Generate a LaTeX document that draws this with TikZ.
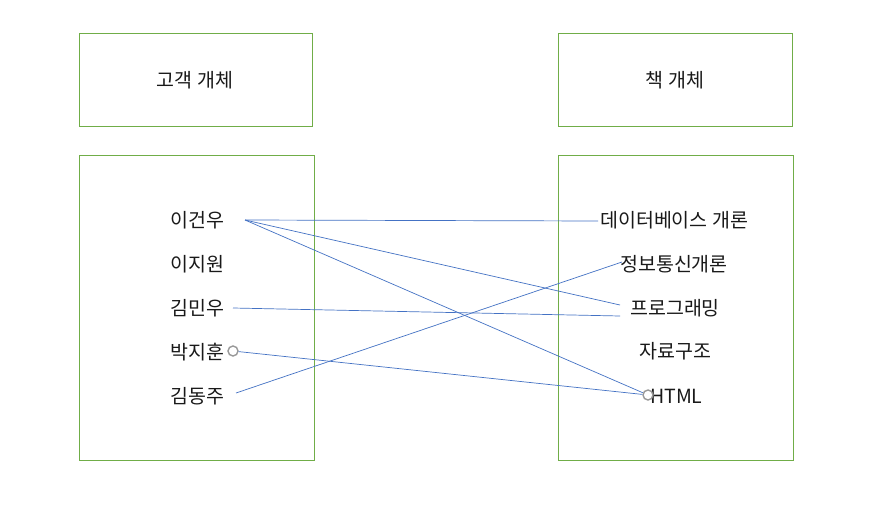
\documentclass[tikz,border=0pt]{standalone}
\usepackage{fontspec}
\setmainfont{Noto Sans CJK KR}
\begin{document}
\begin{tikzpicture}[x=1pt,y=-1pt,
  lbl/.style={font=\fontsize{19.5}{23}\selectfont, inner sep=0pt, text=black!90},
  link/.style={draw=linkblue, line width=0.7pt},
  entbox/.style={draw=boxgreen, line width=0.8pt},
  dot/.style={circle, draw=gray!80, line width=1.4pt, fill=white, minimum size=10pt, inner sep=0pt}]
\definecolor{boxgreen}{HTML}{70AD47}
\definecolor{linkblue}{HTML}{4472C4}
\useasboundingbox (0,0) rectangle (875,506);
\fill[white] (0,0) rectangle (875,506);
% boxes
\draw[entbox] (79,33) rectangle (312,126);
\draw[entbox] (558,33) rectangle (792,126);
\draw[entbox] (79,155) rectangle (314,460);
\draw[entbox] (558,155) rectangle (793,460);
\node[lbl] (t1) at (195,80) {고객 개체};
\node[lbl] (t2) at (675,80) {책 개체};
% left items
\node[lbl, anchor=west] (c1) at (170,220) {이건우};
\node[lbl, anchor=west] (c2) at (170,264) {이지원};
\node[lbl, anchor=west] (c3) at (170,308) {김민우};
\node[lbl, anchor=west] (c4) at (170,352) {박지훈};
\node[lbl, anchor=west] (c5) at (170,396) {김동주};
% right items
\node[lbl, anchor=west] (b1) at (600,220) {데이터베이스 개론};
\node[lbl, anchor=west] (b2) at (620,264) {정보통신개론};
\node[lbl, anchor=west] (b3) at (630,308) {프로그래밍};
\node[lbl, anchor=west] (b4) at (639,351) {자료구조};
\node[lbl, anchor=west] (b5) at (650,396) {HTML};
% endpoints
\coordinate (a1) at (245,220);
\coordinate (a3) at (233,308);
\coordinate (a5) at (236,393);
\coordinate (e1) at (598,221);
\coordinate (e2) at (622,262);
\coordinate (e3a) at (620,305);
\coordinate (e3b) at (620,316);
% links
\draw[link] (a1) -- (e1);
\draw[link] (a1) -- (e3a);
\draw[link] (a3) -- (e3b);
\draw[link] (a5) -- (e2);
\node[dot] (d1) at (233,351) {};
\node[dot] (d2) at (648,395) {};
\draw[link] (a1) -- (d2);
\draw[link] (d1) -- (d2);
\end{tikzpicture}
\end{document}
